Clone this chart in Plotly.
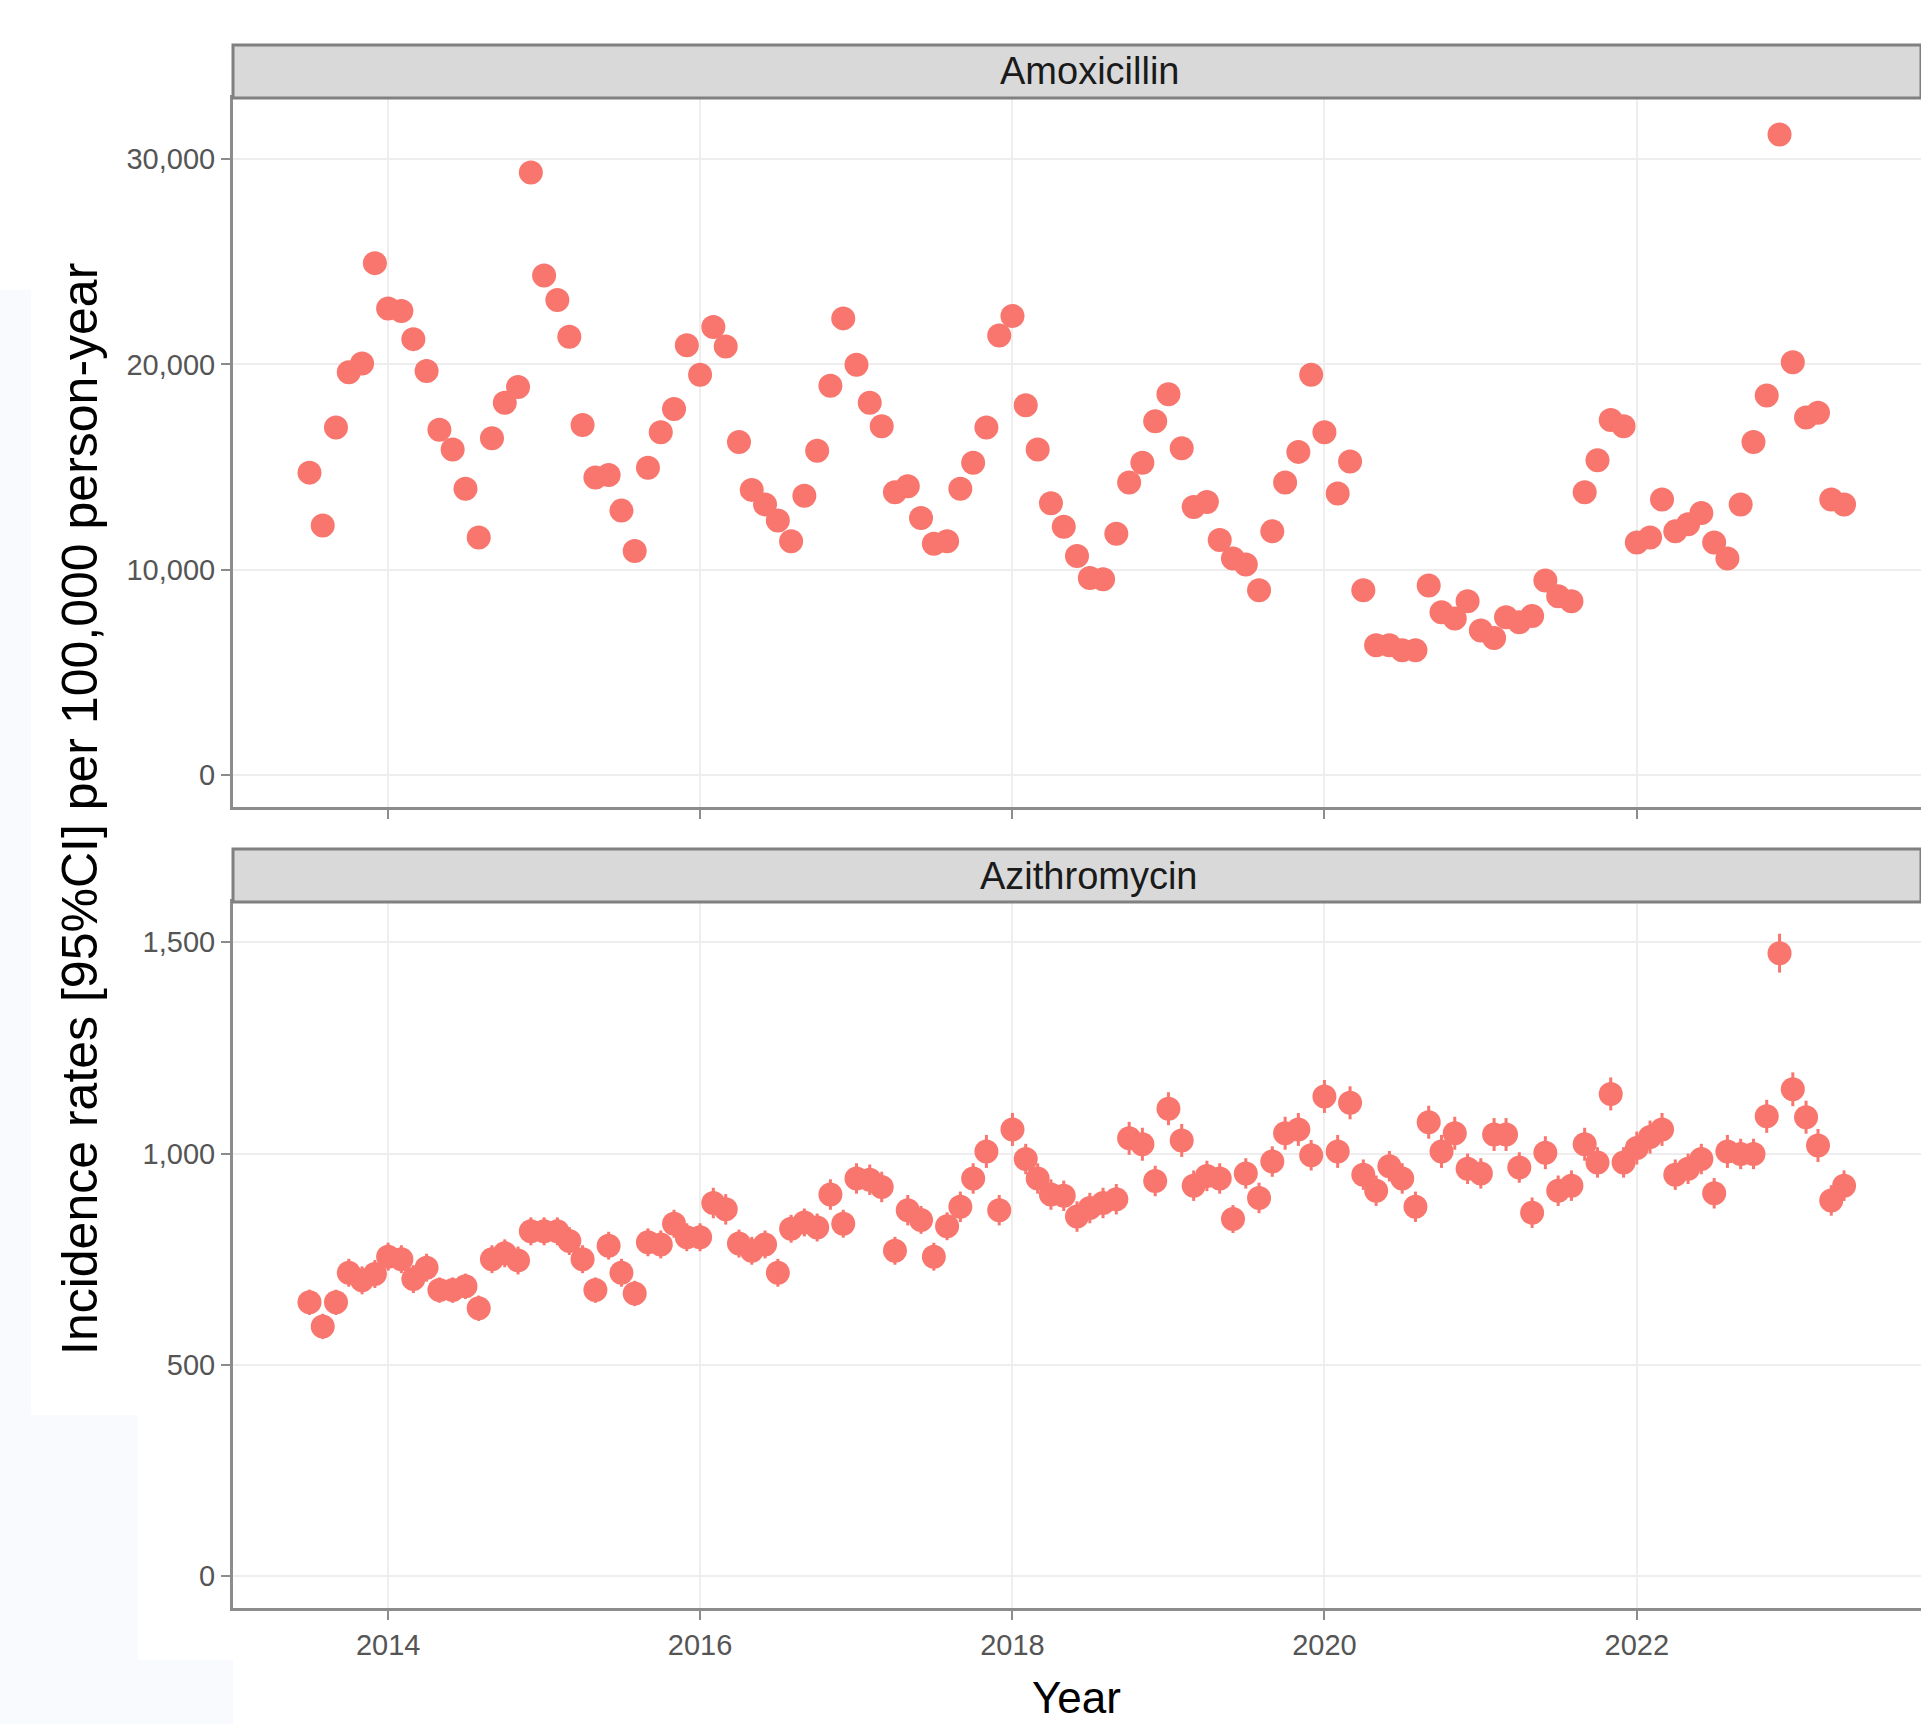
import plotly.graph_objects as go
import pandas as pd

W, H = 1921, 1724

# ---- data -------------------------------------------------------------
start_month = "2013-07-01"
n_months = 119
months = pd.date_range(start_month, periods=n_months, freq="MS")

amoxicillin = [
    14730, 12160, 16930, 19620, 20040, 24930, 22720, 22600, 21230, 19680,
    16820, 15860, 13950, 11570, 16400, 18130, 18900, 29340, 24330, 23140,
    21350, 17050, 14490, 14610, 12880, 10910, 14970, 16700, 17830, 20930,
    19500, 21820, 20870, 16220, 13890, 13180, 12400, 11390, 13600, 15800,
    18960, 22240, 19980, 18130, 16990, 13770, 14070, 12520, 11270, 11390,
    13950, 15210, 16930, 21410, 22360, 18010, 15860, 13240, 12100, 10670,
    9600, 9540, 11750, 14250, 15210, 17230, 18550, 15920, 13060, 13300,
    11450, 10550, 10260, 9000, 11870, 14250, 15740, 19500, 16700, 13710,
    15270, 9000, 6320, 6320, 6080, 6080, 9240, 7930, 7630, 8470,
    7040, 6680, 7690, 7450, 7750, 9480, 8710, 8470, 13770, 15330,
    17290, 16990, 11330, 11570, 13420, 11870, 12220, 12760, 11330, 10550,
    13180, 16220, 18490, 31190, 20100, 17410, 17650, 13420, 13180,
]

azithromycin = [
    648, 591, 648, 718, 700, 715, 756, 750, 703, 730,
    677, 677, 686, 634, 750, 764, 747, 816, 816, 816,
    793, 750, 677, 782, 718, 669, 790, 785, 834, 802,
    802, 883, 868, 787, 770, 785, 718, 822, 837, 825,
    903, 834, 941, 938, 921, 770, 866, 843, 756, 828,
    874, 941, 1005, 866, 1057, 987, 941, 903, 900, 851,
    871, 883, 892, 1036, 1022, 935, 1106, 1031, 924, 947,
    941, 845, 953, 895, 981, 1048, 1057, 996, 1135, 1005,
    1120, 950, 912, 970, 941, 874, 1074, 1005, 1048, 964,
    953, 1045, 1045, 967, 860, 1002, 912, 924, 1022, 979,
    1141, 979, 1013, 1039, 1057, 950, 964, 987, 906, 1005,
    999, 999, 1088, 1474, 1152, 1086, 1019, 889, 924,
]

# half-width of the 95% CI (Azithromycin)
azithromycin_ci = [
    30, 30, 30, 33, 33, 33, 33, 33, 33, 33,
    30, 30, 30, 30, 33, 33, 33, 33, 33, 33,
    33, 33, 30, 33, 33, 30, 33, 33, 33, 33,
    33, 36, 36, 33, 33, 33, 33, 33, 33, 33,
    36, 33, 36, 36, 36, 33, 36, 33, 33, 33,
    36, 36, 39, 36, 39, 36, 36, 36, 36, 36,
    36, 36, 36, 39, 39, 36, 39, 39, 36, 36,
    36, 33, 36, 36, 36, 39, 39, 36, 39, 39,
    39, 36, 36, 36, 36, 36, 39, 39, 39, 36,
    36, 39, 39, 36, 36, 39, 36, 36, 39, 36,
    39, 36, 39, 39, 39, 36, 36, 36, 36, 39,
    36, 36, 39, 46, 40, 39, 39, 36, 36,
]

year_tick_dates = ["2014-01-01", "2016-01-01", "2018-01-01", "2020-01-01", "2022-01-01"]
year_tick_labels = ["2014", "2016", "2018", "2020", "2022"]
amox_ticks = [0, 10000, 20000, 30000]
amox_tick_labels = ["0", "10,000", "20,000", "30,000"]
azi_ticks = [0, 500, 1000, 1500]
azi_tick_labels = ["0", "500", "1,000", "1,500"]

panel_titles = ["Amoxicillin", "Azithromycin"]
x_title = "Year"
y_title = "Incidence rates [95%CI] per 100,000 person-year"

# ---- styling ----------------------------------------------------------
PT_COLOR = "#F8766D"
FONT = "Liberation Sans, Arial, sans-serif"
BORDER = "#8c8c8c"
GRID = "#eeeeee"
TICKFONT = dict(family=FONT, size=29, color="#555555")

def py(px):  # pixel from top -> paper fraction
    return 1 - px / H

def pxx(px):
    return px / W

x_dom = [pxx(233), 1.0]
top_dom = [py(807), py(98)]
bot_dom = [py(1608), py(902)]
top_strip = [py(98), py(45)]
bot_strip = [py(902), py(849)]

x_range = ["2013-01-03", "2023-10-28"]

fig = go.Figure()
fig.add_trace(go.Scatter(
    x=months, y=amoxicillin, mode="markers",
    marker=dict(color=PT_COLOR, size=24, line=dict(width=0)),
    xaxis="x2", yaxis="y2", showlegend=False, hoverinfo="x+y"))
fig.add_trace(go.Scatter(
    x=months, y=azithromycin, mode="markers",
    marker=dict(color=PT_COLOR, size=24, line=dict(width=0)),
    error_y=dict(type="data", array=azithromycin_ci, color=PT_COLOR,
                 thickness=3, width=0),
    xaxis="x", yaxis="y", showlegend=False, hoverinfo="x+y"))

common_x = dict(
    domain=x_dom, range=x_range, type="date",
    tickvals=year_tick_dates, ticktext=year_tick_labels,
    ticks="outside", ticklen=9, tickwidth=2, tickcolor=BORDER,
    showline=True, mirror=True, linecolor=BORDER, linewidth=3,
    showgrid=True, gridcolor=GRID, gridwidth=1.5, zeroline=False,
    tickfont=TICKFONT, automargin=False,
)
common_y = dict(
    ticks="outside", ticklen=9, tickwidth=2, tickcolor=BORDER,
    showline=True, mirror=True, linecolor=BORDER, linewidth=3,
    showgrid=True, gridcolor=GRID, gridwidth=1.5, zeroline=False,
    tickfont=TICKFONT, automargin=False, ticklabelstandoff=0,
)

fig.update_layout(
    width=W, height=H,
    margin=dict(l=0, r=0, t=0, b=0),
    paper_bgcolor="white", plot_bgcolor="white",
    font=dict(family=FONT),
    xaxis=dict(common_x, anchor="y", ticklabelstandoff=0),
    xaxis2=dict(common_x, anchor="y2", showticklabels=False, matches="x"),
    yaxis=dict(common_y, domain=bot_dom, range=[-75, 1595], anchor="x",
               tickvals=azi_ticks, ticktext=azi_tick_labels),
    yaxis2=dict(common_y, domain=top_dom, range=[-1550, 32970], anchor="x2",
                tickvals=amox_ticks, ticktext=amox_tick_labels),
    showlegend=False,
)

shapes = []
# faint screenshot tint areas
for (x0, x1, y0, y1) in [(0, 31, 290, H), (0, 138, 1415, H), (0, 233, 1660, H)]:
    shapes.append(dict(type="rect", xref="paper", yref="paper",
                       x0=pxx(x0), x1=pxx(x1), y0=py(y1), y1=py(y0),
                       fillcolor="#f9fafd", line=dict(width=0), layer="below"))
# facet strips
for dom in (top_strip, bot_strip):
    shapes.append(dict(type="rect", xref="paper", yref="paper",
                       x0=x_dom[0], x1=1.0, y0=dom[0], y1=dom[1],
                       fillcolor="#d9d9d9", line=dict(color="#808080", width=3)))
fig.update_layout(shapes=shapes)

annotations = []
for title, dom in zip(panel_titles, (top_strip, bot_strip)):
    annotations.append(dict(text=title, xref="paper", yref="paper",
                            x=pxx(1089), y=(dom[0] + dom[1]) / 2,
                            xanchor="center", yanchor="middle", showarrow=False,
                            font=dict(family=FONT, size=38, color="#1a1a1a")))
annotations.append(dict(text=x_title, xref="paper", yref="paper",
                        x=pxx(1076), y=py(1697), xanchor="center", yanchor="middle",
                        showarrow=False, font=dict(family=FONT, size=44, color="black")))
annotations.append(dict(text=y_title, xref="paper", yref="paper",
                        x=pxx(80), y=py(809), xanchor="center", yanchor="middle",
                        textangle=-90, showarrow=False,
                        font=dict(family=FONT, size=50, color="black")))
fig.update_layout(annotations=annotations)

fig.write_html("out.html", config={"displayModeBar": False},
               post_script="document.body.style.margin='0';document.body.style.padding='0';")
